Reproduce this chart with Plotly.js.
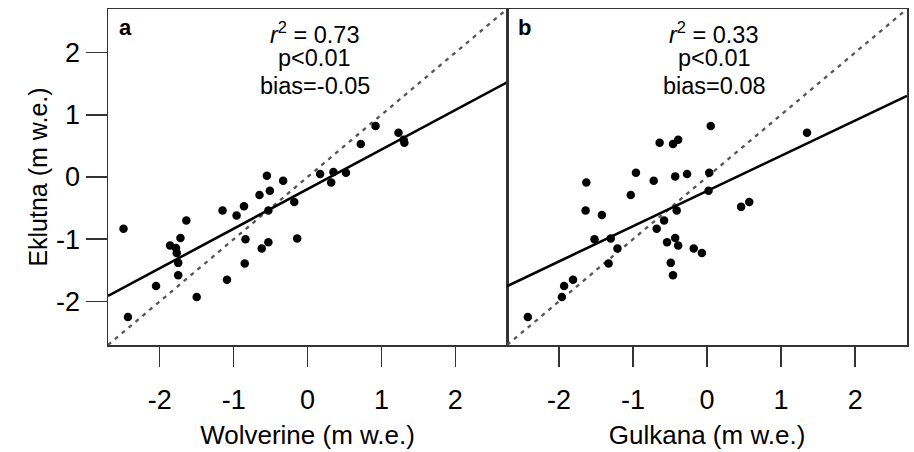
<!DOCTYPE html>
<html>
<head>
<meta charset="utf-8">
<script src="https://cdn.plot.ly/plotly-3.0.1.min.js"></script>
<style>
html,body{margin:0;padding:0;background:#fff;}
#chart{width:914px;height:452px;}
</style>
</head>
<body>
<div id="chart"></div>
<script>
// Panel a: Wolverine vs Eklutna
const wolverine = [-2.49,-2.43,-2.05,-1.86,-1.78,-1.77,-1.72,-1.75,-1.75,-1.64,-1.50,-1.15,-1.09,-0.96,-0.86,-0.84,-0.85,-0.65,-0.62,-0.55,-0.51,-0.53,-0.53,-0.33,-0.18,-0.14,0.17,0.32,0.35,0.52,0.72,0.92,1.23,1.31,1.30];
const eklutnaA  = [-0.83,-2.25,-1.75,-1.10,-1.14,-1.22,-0.98,-1.38,-1.58,-0.70,-1.93,-0.54,-1.65,-0.62,-0.47,-1.00,-1.39,-0.29,-1.15,0.02,-0.22,-0.54,-1.05,-0.06,-0.40,-0.99,0.05,-0.09,0.08,0.07,0.53,0.82,0.71,0.55,0.60];
// Panel b: Gulkana vs Eklutna
const gulkana  = [-2.42,-1.96,-1.93,-1.81,-1.63,-1.64,-1.42,-1.52,-1.30,-1.21,-1.33,-1.03,-0.96,-0.72,-0.64,-0.68,-0.58,-0.54,-0.49,-0.46,-0.46,-0.39,-0.43,-0.41,-0.43,-0.39,-0.27,-0.18,-0.07,0.03,0.02,0.05,0.46,0.57,1.35];
const eklutnaB = [-2.25,-1.93,-1.75,-1.65,-0.09,-0.54,-0.61,-1.00,-0.99,-1.15,-1.39,-0.29,0.07,-0.06,0.55,-0.83,-0.70,-1.05,-1.38,-1.58,0.53,0.60,0.01,-0.54,-0.98,-1.10,0.05,-1.15,-1.22,0.07,-0.22,0.82,-0.48,-0.40,0.71];
const axisRange = [-2.7, 2.7];
const tickVals = [-2,-1,0,1,2];
const tickText = ['-2','-1','0','1','2'];
const panelLabels = ['a','b'];
const statsA = ['<i>r</i><sup>2</sup> = 0.73','p<0.01','bias=-0.05'];
const statsB = ['<i>r</i><sup>2</sup> = 0.33','p<0.01','bias=0.08'];
const xTitles = ['Wolverine (m w.e.)','Gulkana (m w.e.)'];
const yTitle = 'Eklutna (m w.e.)';

function fit(x, y){
  const n = x.length;
  const mx = x.reduce((a,b)=>a+b,0)/n, my = y.reduce((a,b)=>a+b,0)/n;
  let sxy=0, sxx=0;
  for(let i=0;i<n;i++){sxy+=(x[i]-mx)*(y[i]-my); sxx+=(x[i]-mx)**2;}
  const b = sxy/sxx; return {b:b, a:my-b*mx};
}
const fa = fit(wolverine, eklutnaA), fb = fit(gulkana, eklutnaB);

const FONT = 'Liberation Sans, Arial, sans-serif';
const mk = {color:'#000', size:8.5};
const dashLine = {color:'#555', width:2.3, dash:'4px,5px'};
const fitLine = {color:'#000', width:2.6};
const traces = [
  {x:axisRange, y:axisRange, xaxis:'x', yaxis:'y', mode:'lines', line:dashLine, hoverinfo:'skip'},
  {x:axisRange, y:axisRange.map(v=>fa.a+fa.b*v), xaxis:'x', yaxis:'y', mode:'lines', line:fitLine},
  {x:wolverine, y:eklutnaA, xaxis:'x', yaxis:'y', mode:'markers', marker:mk},
  {x:axisRange, y:axisRange, xaxis:'x2', yaxis:'y2', mode:'lines', line:dashLine, hoverinfo:'skip'},
  {x:axisRange, y:axisRange.map(v=>fb.a+fb.b*v), xaxis:'x2', yaxis:'y2', mode:'lines', line:fitLine},
  {x:gulkana, y:eklutnaB, xaxis:'x2', yaxis:'y2', mode:'markers', marker:mk}
];

const xcommon = {range:axisRange, tickvals:tickVals, ticktext:tickText, ticks:'outside', ticklen:20, tickwidth:1.5, tickcolor:'#333',
  showline:true, linecolor:'#333', linewidth:1.5, mirror:true, showgrid:false, zeroline:false,
  tickfont:{family:FONT, size:27, color:'#000'}, ticklabelstandoff:10};
const layout = {
  width:914, height:452, showlegend:false,
  margin:{l:108, r:7, t:9, b:106.5},
  paper_bgcolor:'#fff', plot_bgcolor:'#fff',
  font:{family:FONT, color:'#000'},
  xaxis:Object.assign({}, xcommon, {domain:[0,0.4995], anchor:'y', title:{text:xTitles[0], font:{family:FONT,size:26}, standoff:12}}),
  xaxis2:Object.assign({}, xcommon, {domain:[0.4995,1], anchor:'y2', title:{text:xTitles[1], font:{family:FONT,size:26}, standoff:12}}),
  yaxis:{range:axisRange, tickvals:tickVals, ticktext:tickText, ticks:'outside', ticklen:21, tickwidth:1.5, tickcolor:'#333',
    showline:true, linecolor:'#333', linewidth:1.5, mirror:true, showgrid:false, zeroline:false, anchor:'x',
    tickfont:{family:FONT, size:27, color:'#000'}, title:{text:yTitle, font:{family:FONT,size:25}, standoff:1}},
  yaxis2:{range:axisRange, showticklabels:false, ticks:'', showline:true, linecolor:'#333', linewidth:1.5, mirror:true,
    showgrid:false, zeroline:false, anchor:'x2'},
  annotations:[]
};
function addStats(xref, yref, label, stats){
  layout.annotations.push({xref:xref+' domain', yref:yref+' domain', x:0.044, y:0.946, text:'<b>'+label+'</b>', showarrow:false,
    font:{family:FONT, size:22, color:'#000'}, xanchor:'center', yanchor:'middle'});
  const ys = [0.929, 0.853, 0.772];
  stats.forEach((s,i)=>layout.annotations.push({xref:xref+' domain', yref:yref+' domain', x:0.518, y:ys[i], text:s, showarrow:false,
    font:{family:FONT, size:23.5, color:'#000'}, xanchor:'center', yanchor:'middle'}));
}
addStats('x','y',panelLabels[0],statsA);
addStats('x2','y2',panelLabels[1],statsB);

Plotly.newPlot('chart', traces, layout, {displayModeBar:false, staticPlot:true});
</script>
</body>
</html>
